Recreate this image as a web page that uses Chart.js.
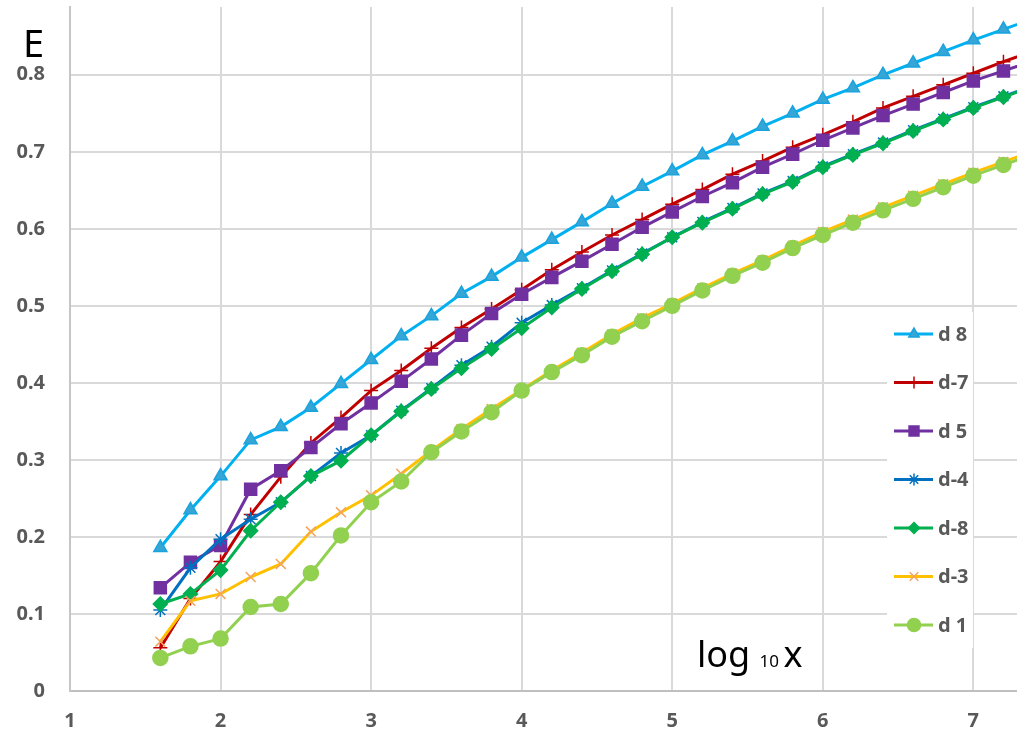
<!DOCTYPE html>
<html>
<head>
<meta charset="utf-8">
<script src="https://cdn.jsdelivr.net/npm/chart.js@4/dist/chart.umd.min.js"></script>
<style>
  html, body { margin: 0; padding: 0; background: #ffffff; }
  #wrap { width: 1017px; height: 733px; position: relative; }
</style>
</head>
<body>
<div id="wrap"><canvas id="chart" width="1017" height="733"></canvas></div>
<script>
// x positions (log10 x)
const xValues = [1.6, 1.8, 2.0, 2.2, 2.4, 2.6, 2.8, 3.0, 3.2, 3.4, 3.6, 3.8, 4.0, 4.2, 4.4,
                 4.6, 4.8, 5.0, 5.2, 5.4, 5.6, 5.8, 6.0, 6.2, 6.4, 6.6, 6.8, 7.0, 7.2, 7.4];

const seriesNames = ['d 8', 'd-7', 'd 5', 'd-4', 'd-8', 'd-3', 'd 1'];

const valuesD8 = [0.186, 0.235, 0.279, 0.326, 0.343, 0.368, 0.399, 0.430, 0.461, 0.487, 0.516, 0.538, 0.563, 0.586, 0.609,
                  0.633, 0.655, 0.675, 0.696, 0.714, 0.733, 0.750, 0.768, 0.783, 0.800, 0.815, 0.830, 0.845, 0.859, 0.873];
const valuesD7 = [0.056, 0.120, 0.168, 0.229, 0.278, 0.322, 0.355, 0.390, 0.416, 0.445, 0.472, 0.496, 0.521, 0.547, 0.570,
                  0.592, 0.612, 0.632, 0.651, 0.671, 0.688, 0.706, 0.722, 0.739, 0.757, 0.772, 0.787, 0.802, 0.817, 0.831];
const valuesD5 = [0.134, 0.167, 0.189, 0.262, 0.286, 0.316, 0.347, 0.374, 0.402, 0.431, 0.462, 0.490, 0.515, 0.537, 0.558,
                  0.580, 0.602, 0.622, 0.642, 0.660, 0.680, 0.697, 0.715, 0.731, 0.747, 0.762, 0.777, 0.792, 0.805, 0.818];
const valuesDm4 = [0.105, 0.160, 0.197, 0.223, 0.245, 0.279, 0.309, 0.332, 0.364, 0.393, 0.423, 0.447, 0.478, 0.501, 0.523,
                   0.546, 0.568, 0.589, 0.609, 0.627, 0.646, 0.662, 0.681, 0.697, 0.712, 0.728, 0.743, 0.758, 0.772, 0.786];
const valuesDm8 = [0.113, 0.126, 0.157, 0.208, 0.245, 0.279, 0.299, 0.332, 0.363, 0.392, 0.419, 0.444, 0.471, 0.498, 0.522,
                   0.545, 0.567, 0.589, 0.608, 0.626, 0.645, 0.661, 0.680, 0.696, 0.711, 0.727, 0.742, 0.757, 0.771, 0.785];
const valuesDm3 = [0.064, 0.117, 0.126, 0.148, 0.165, 0.207, 0.232, 0.254, 0.282, 0.312, 0.340, 0.366, 0.391, 0.416, 0.439,
                   0.463, 0.484, 0.503, 0.523, 0.542, 0.559, 0.578, 0.596, 0.612, 0.628, 0.643, 0.658, 0.673, 0.687, 0.701];
const valuesD1 = [0.043, 0.058, 0.068, 0.109, 0.113, 0.153, 0.202, 0.245, 0.272, 0.310, 0.337, 0.362, 0.390, 0.414, 0.436,
                  0.460, 0.480, 0.500, 0.520, 0.539, 0.556, 0.575, 0.592, 0.608, 0.624, 0.639, 0.654, 0.669, 0.683, 0.697];

const xTickValues = [1, 2, 3, 4, 5, 6, 7];
const yTickValues = [0, 0.1, 0.2, 0.3, 0.4, 0.5, 0.6, 0.7, 0.8];

const seriesValues = [valuesD8, valuesD7, valuesD5, valuesDm4, valuesDm8, valuesDm3, valuesD1];

const styles = [
    { line: '#00b0f0', fill: '#35a6d6', stroke: '#1aa3de', pointStyle: 'triangle', radius: 7.5, legendRadius: 6 },
    { line: '#c00000', fill: '#c00000', stroke: '#c00000', pointStyle: 'cross', radius: 7, legendRadius: 6 },
    { line: '#7030a0', fill: '#7030a0', stroke: '#7030a0', pointStyle: 'rect', radius: 8.5, legendRadius: 7 },
    { line: '#0070c0', fill: '#0070c0', stroke: '#0070c0', pointStyle: 'star', radius: 7, legendRadius: 6 },
    { line: '#00b050', fill: '#00b050', stroke: '#00b050', pointStyle: 'rectRot', radius: 7, legendRadius: 5.5 },
    { line: '#ffc000', fill: '#f4a261', stroke: '#f4a261', pointStyle: 'crossRot', radius: 7, legendRadius: 6 },
    { line: '#92d050', fill: '#92d050', stroke: '#92d050', pointStyle: 'circle', radius: 7.5, legendRadius: 6.5 }
];

const datasets = seriesNames.map((name, i) => ({
    label: name,
    data: xValues.map((x, j) => ({ x: x, y: seriesValues[i][j] })),
    borderColor: styles[i].line,
    borderWidth: 3,
    pointStyle: styles[i].pointStyle,
    pointRadius: styles[i].radius,
    pointBackgroundColor: styles[i].fill,
    pointBorderColor: styles[i].stroke,
    pointBorderWidth: 1.5,
    tension: 0,
    fill: false,
    order: seriesNames.length - i
}));

function keepTicks(list) {
    return function(scale) {
        scale.ticks = list.map(v => ({ value: v }));
    };
}

// no extra room for the edge labels, the plot runs to the canvas edge
function noEdgePadding(scale) {
    scale.paddingTop = 0;
    scale.paddingBottom = 0;
    scale.paddingLeft = 0;
    scale.paddingRight = 0;
}

const overlayPlugin = {
    id: 'overlay',
    afterDraw(chart) {
        const ctx = chart.ctx;
        ctx.save();

        // axis captions
        ctx.fillStyle = '#000000';
        ctx.textBaseline = 'alphabetic';
        ctx.textAlign = 'left';
        ctx.font = '38px "Noto Sans"';
        ctx.fillText('E', 23, 57);

        ctx.font = '36px "Noto Sans"';
        ctx.fillText('log', 697, 667);
        let w = ctx.measureText('log ').width;
        ctx.font = '17px "Noto Sans"';
        ctx.fillText('10', 697 + w, 667);
        let w2 = ctx.measureText('10 ').width;
        ctx.font = '36px "Noto Sans"';
        ctx.fillText('x', 697 + w + w2, 667);

        // legend
        ctx.fillStyle = '#ffffff';
        ctx.fillRect(887, 312, 86, 336);

        const startY = 334;
        const stepY = 48.5;
        seriesNames.forEach((name, i) => {
            const y = startY + i * stepY;
            const st = styles[i];
            ctx.strokeStyle = st.line;
            ctx.lineWidth = 3;
            ctx.beginPath();
            ctx.moveTo(894, y);
            ctx.lineTo(933, y);
            ctx.stroke();

            ctx.fillStyle = st.fill;
            ctx.strokeStyle = st.stroke;
            ctx.lineWidth = 1.5;
            if (Chart.helpers && Chart.helpers.drawPoint) {
                Chart.helpers.drawPoint(ctx, {
                    pointStyle: st.pointStyle,
                    radius: st.legendRadius,
                    rotation: 0,
                    borderWidth: 1.5
                }, 914, y);
            }

            ctx.fillStyle = '#595959';
            ctx.font = 'bold 20px "Noto Sans"';
            ctx.textBaseline = 'middle';
            ctx.textAlign = 'left';
            ctx.fillText(name, 938, y + 1);
        });

        ctx.restore();
    }
};

Chart.defaults.font.family = '"Noto Sans", "DejaVu Sans", sans-serif';

new Chart(document.getElementById('chart').getContext('2d'), {
    type: 'line',
    data: { datasets: datasets },
    options: {
        responsive: false,
        animation: false,
        events: [],
        layout: { autoPadding: false, padding: { top: 7, right: 0, left: 0, bottom: 0 } },
        plugins: {
            legend: { display: false },
            tooltip: { enabled: false },
            title: { display: false }
        },
        scales: {
            x: {
                type: 'linear',
                min: 1,
                max: 7.29,
                afterBuildTicks: keepTicks(xTickValues),
                afterFit(scale) { scale.height = 42; noEdgePadding(scale); },
                ticks: {
                    color: '#595959',
                    font: { size: 20, weight: 'bold' },
                    padding: 18,
                    maxRotation: 0,
                    callback: v => String(v)
                },
                grid: { color: '#d9d9d9', lineWidth: 2, drawTicks: false },
                border: { color: '#bfbfbf', width: 2 }
            },
            y: {
                type: 'linear',
                min: 0,
                max: 0.888,
                afterBuildTicks: keepTicks(yTickValues),
                afterFit(scale) { scale.width = 70; noEdgePadding(scale); },
                ticks: {
                    color: '#595959',
                    font: { size: 20, weight: 'bold' },
                    padding: 25,
                    callback: v => (v === 0 ? '0' : v.toFixed(1))
                },
                grid: { color: '#d9d9d9', lineWidth: 2, drawTicks: false },
                border: { color: '#c6c6c6', width: 2 }
            }
        }
    },
    plugins: [overlayPlugin]
});
</script>
</body>
</html>
